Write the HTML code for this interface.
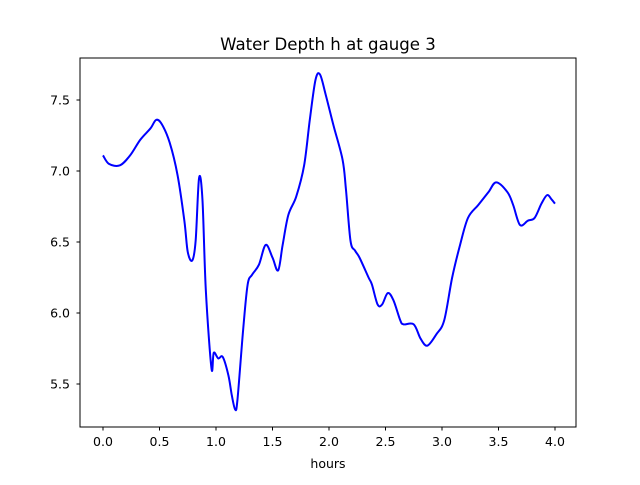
<!DOCTYPE html>
<html><head><meta charset="utf-8"><style>
body{margin:0;background:#fff;}
svg text{font-family:"DejaVu Sans","Liberation Sans",sans-serif;fill:#000;}
</style></head><body>
<svg id="chart" width="640" height="480" viewBox="0 0 640 480">
<rect width="640" height="480" fill="#fff"/>
<text x="328" y="50" font-size="16.6" text-anchor="middle">Water Depth h at gauge 3</text>
<g id="ticks"></g>
<path id="line" fill="none" stroke="#0000ff" stroke-width="2" stroke-linejoin="round"/>
<rect x="80" y="58" width="496" height="369" fill="none" stroke="#000" stroke-width="1"/>
<text x="328" y="468" font-size="12.5" text-anchor="middle">hours</text>
</svg>
<script>
const hours=[0,.053,.15,.24,.33,.42,.47,.52,.59,.66,.72,.75,.79,.82,.85,.88,.91,.96,.98,1.02,1.06,1.11,1.14,1.17,1.19,1.24,1.28,1.32,1.38,1.44,1.50,1.55,1.59,1.64,1.71,1.78,1.83,1.88,1.92,1.97,2.04,2.12,2.15,2.19,2.23,2.27,2.35,2.38,2.43,2.47,2.52,2.57,2.63,2.66,2.75,2.81,2.87,2.95,3.02,3.09,3.16,3.23,3.32,3.41,3.48,3.58,3.63,3.69,3.76,3.82,3.88,3.93,3.97,4.00];
const depth=[7.11,7.05,7.04,7.11,7.22,7.30,7.36,7.33,7.20,6.97,6.65,6.43,6.37,6.51,6.95,6.80,6.16,5.61,5.72,5.68,5.69,5.56,5.42,5.32,5.39,5.88,6.20,6.27,6.34,6.48,6.39,6.30,6.48,6.69,6.82,7.04,7.36,7.64,7.68,7.54,7.32,7.08,6.87,6.51,6.44,6.39,6.25,6.20,6.06,6.06,6.14,6.09,5.95,5.92,5.92,5.82,5.77,5.85,5.95,6.25,6.48,6.67,6.76,6.85,6.92,6.85,6.76,6.62,6.65,6.67,6.77,6.83,6.80,6.77];
const xTicks=[0,0.5,1,1.5,2,2.5,3,3.5,4];
const xTickLabels=["0.0","0.5","1.0","1.5","2.0","2.5","3.0","3.5","4.0"];
const yTicks=[5.5,6,6.5,7,7.5];
const yTickLabels=["5.5","6.0","6.5","7.0","7.5"];
const xs=v=>103+v*113;
const ys=v=>171-(v-7)*142;
const ns="http://www.w3.org/2000/svg";
const g=document.getElementById('ticks');
function mk(t,a){const e=document.createElementNS(ns,t);for(const k in a)e.setAttribute(k,a[k]);g.appendChild(e);return e;}
xTicks.forEach((v,i)=>{
 const l=mk('line',{x1:xs(v),x2:xs(v),y1:427,y2:430.5,stroke:'#000'});
 
 
 const t=mk('text',{x:xs(v),y:446,'font-size':'12.5','text-anchor':'middle'});
 
 
 t.textContent=xTickLabels[i];
});
yTicks.forEach((v,i)=>{
 const l=mk('line',{x1:76.5,x2:80,y1:ys(v),y2:ys(v),stroke:'#000'});
 
 
 const t=mk('text',{x:70,y:ys(v)+4.5,'font-size':'12.5','text-anchor':'end'});
 
 
 t.textContent=yTickLabels[i];
});
const P=hours.map((h,i)=>[xs(h),ys(depth[i])]);
let d='M'+P[0][0]+','+P[0][1];
for(let i=0;i<P.length-1;i++){
 const p0=P[Math.max(0,i-1)],p1=P[i],p2=P[i+1],p3=P[Math.min(P.length-1,i+2)];
 const c1=[p1[0]+(p2[0]-p0[0])/6,p1[1]+(p2[1]-p0[1])/6];
 const c2=[p2[0]-(p3[0]-p1[0])/6,p2[1]-(p3[1]-p1[1])/6];
 d+=`C${c1[0]},${c1[1]} ${c2[0]},${c2[1]} ${p2[0]},${p2[1]}`;
}
document.getElementById('line').setAttribute('d',d);
</script>
</body></html>
